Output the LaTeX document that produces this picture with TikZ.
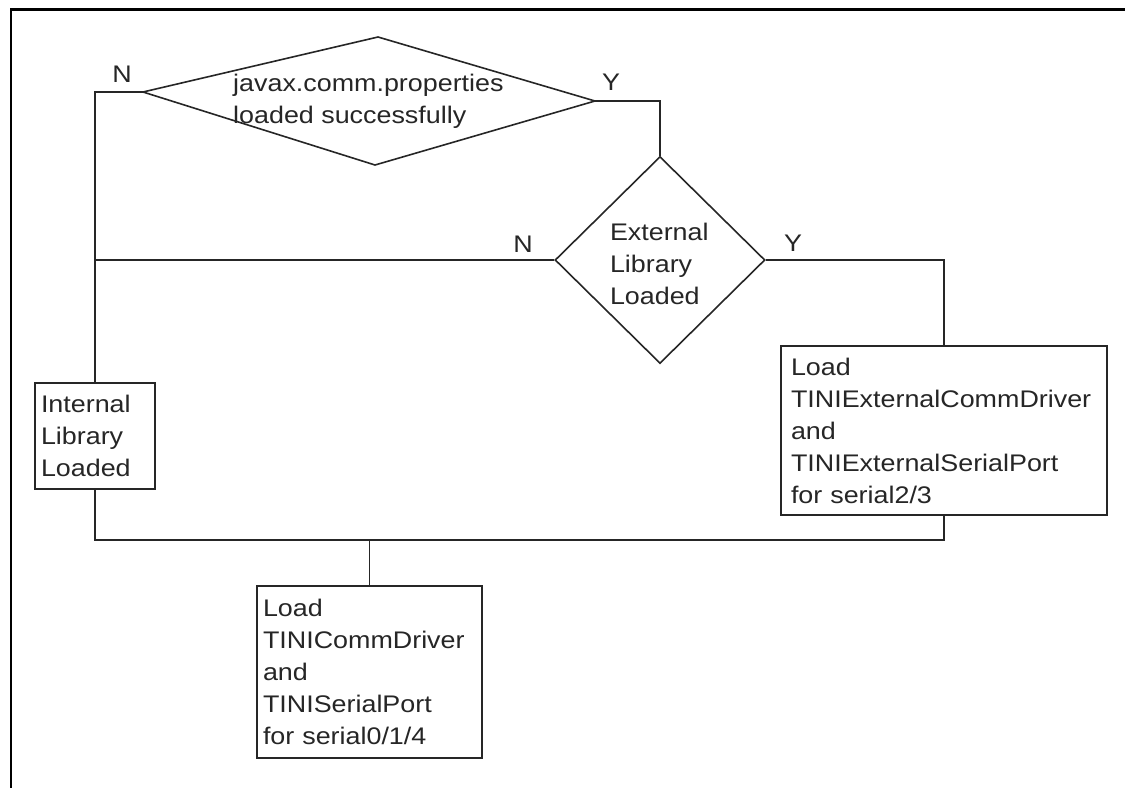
\documentclass[tikz,border=0pt]{standalone}
\usepackage{fontspec}
\newfontfamily\df{Liberation Sans}[FakeStretch=1.12]
\usetikzlibrary{shapes.geometric,backgrounds}
\definecolor{ink}{gray}{0.15}
\tikzset{
  conn/.style={draw=ink, line width=1.6pt},
  frame/.style={draw=black, line width=2.6pt},
  txt/.style={font=\df\fontsize{24}{32}\selectfont, text=ink},
  boxnode/.style={txt, draw=ink, line width=1.6pt, fill=white, rectangle, align=left, inner xsep=0pt, inner ysep=0pt},
  decnode/.style={txt, draw=ink, line width=1.6pt, fill=white, diamond, inner sep=0pt, align=left},
  lbl/.style={txt, inner sep=0pt}
}
\begin{document}
\begin{tikzpicture}[x=1pt,y=-1pt]
\useasboundingbox (0,0) rectangle (1125,788);
% frame (top and left only)
\draw[frame] (1125,9.5) -- (11,9.5) -- (11,788);

% top decision (skewed diamond)
\coordinate (dT) at (378,37);
\coordinate (dL) at (143,92);
\coordinate (dR) at (595,101);
\coordinate (dB) at (375,165);
\draw[conn] (dL) -- (dT) -- (dR) -- (dB) -- cycle;
\node[lbl, anchor=west, align=left] (q1) at (233,101) {javax.comm.properties\\loaded successfully};

% second decision
\node[decnode, minimum width=210pt, minimum height=207pt] (d2) at (660,260) {\parbox{100pt}{\vspace*{8pt}External\\Library\\Loaded}};

% boxes
\node[boxnode, text width=108pt, minimum width=120pt, minimum height=106pt, inner xsep=6pt] (int) at (95,436) {Internal\\Library\\Loaded};
\node[boxnode, text width=306pt, minimum width=326pt, minimum height=169pt, inner xsep=10pt] (ext) at (944,430.5) {Load\\TINIExternalCommDriver\\and\\TINIExternalSerialPort\\for serial2/3};
\node[boxnode, text width=213pt, minimum width=225pt, minimum height=172pt, inner xsep=6pt] (ld) at (369.5,672) {Load\\TINICommDriver\\and\\TINISerialPort\\for serial0/1/4};

\coordinate (bus) at (369.5,540);

% connectors, behind the boxes
\begin{pgfonlayer}{background}
\draw[conn] (dL) -| (int.north);
\draw[conn] (dR) -| (d2.north);
\draw[conn] (d2.west) -- (int.north |- d2.west);
\draw[conn] (d2.east) -| (ext.north);
\draw[conn] (int.south) |- (bus) -| (ext.south);
\draw[conn] (bus) -- (ld.north);
\end{pgfonlayer}

% labels
\node[lbl] (n1) at (122,74) {N};
\node[lbl] (y1) at (611,82) {Y};
\node[lbl] (n2) at (523,244) {N};
\node[lbl] (y2) at (793,243) {Y};
\end{tikzpicture}
\end{document}
